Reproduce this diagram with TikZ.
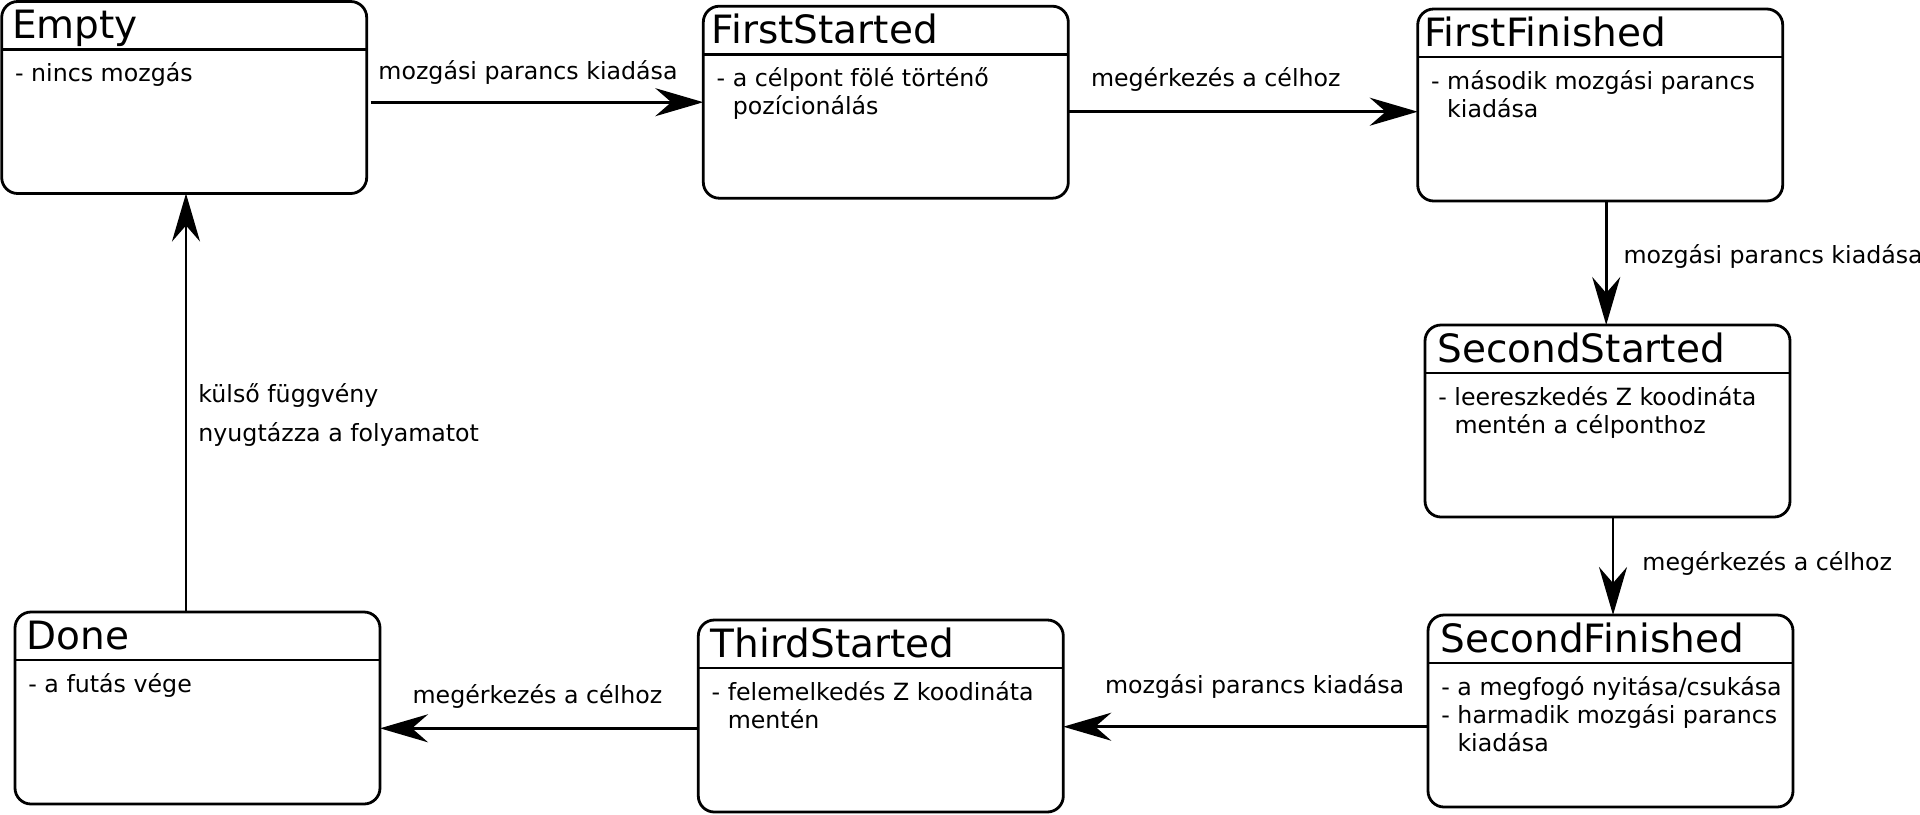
\documentclass[tikz,border=0pt]{standalone}
\usepackage{fontspec}
\setmainfont{DejaVu Sans}
\usetikzlibrary{arrows.meta}

\begin{document}
\begin{tikzpicture}[
    x=0.5pt, y=-0.5pt,
    state/.style={draw, line width=1.4pt, rounded corners=8pt, outer sep=0pt,
        minimum width=182.5pt, minimum height=96pt},
    ttl/.style={anchor=base west, inner sep=0pt,
        font=\fontsize{19.5}{23}\selectfont},
    body/.style={anchor=base west, inner sep=0pt, align=left,
        font=\fontsize{11.85}{14.2}\selectfont},
    lbl/.style={anchor=base, inner sep=0pt,
        font=\fontsize{11.85}{14.2}\selectfont},
    trans/.style={line width=1.4pt,
        -{Stealth[length=24pt, width=14pt, inset=8pt]}},
]
\useasboundingbox (0,0) rectangle (1920,814);

% states: name / centre x / centre y / title offset / title
\foreach \n/\cx/\cy/\tx/\tl in {
    e/184.2/97.5/5/Empty,
    fs/885.8/102.2/4/FirstStarted,
    ff/1600.2/105/3/FirstFinished,
    ss/1607.5/421/6/SecondStarted,
    sf/1610.5/711/6/SecondFinished,
    ts/880.8/716/6/ThirdStarted,
    d/197.5/708/5.5/Done} {
    \node[state] (\n) at (\cx,\cy) {};
    \draw[line width=1.4pt]
        ([yshift=-24pt]\n.north west) -- ([yshift=-24pt]\n.north east);
    \node[ttl] at ([xshift=\tx pt, yshift=-18.5pt]\n.north west) {\tl};
}

% state bodies (base = last line, so shift by 14.2pt per extra line)
\node[body] at ([xshift=6.5pt, yshift=-40pt]e.north west) {- nincs mozgás};
\node[body] at ([xshift=6.5pt, yshift=-54.2pt]fs.north west)
    {- a célpont fölé történő\\\phantom{- }pozícionálás};
\node[body] at ([xshift=6.5pt, yshift=-54.2pt]ff.north west)
    {- második mozgási parancs\\\phantom{- }kiadása};
\node[body] at ([xshift=6.5pt, yshift=-54.2pt]ss.north west)
    {- leereszkedés Z koodináta\\\phantom{- }mentén a célponthoz};
\node[body] at ([xshift=6.5pt, yshift=-68.4pt]sf.north west)
    {- a megfogó nyitása/csukása\\- harmadik mozgási parancs\\\phantom{- }kiadása};
\node[body] at ([xshift=6.5pt, yshift=-54.2pt]ts.north west)
    {- felemelkedés Z koodináta\\\phantom{- }mentén};
\node[body] at ([xshift=6.5pt, yshift=-40pt]d.north west) {- a futás vége};

% transitions
\draw[trans, shorten <=2pt] (e.east |- fs.west) -- (fs.west)
    node[lbl, midway, xshift=-3.5pt, yshift=11.35pt] {mozgási parancs kiadása};
\draw[trans] ([yshift=-4.75pt]fs.east) -- ([yshift=-4.75pt]fs.east -| ff.west)
    node[lbl, midway, xshift=-13.6pt, yshift=12.5pt] {megérkezés a célhoz};
\draw[trans] ([xshift=3pt]ff.south) -- ([xshift=3pt]ff.south |- ss.north)
    node[lbl, anchor=base west, midway, xshift=8pt] {mozgási parancs kiadása};
\draw[trans] ([xshift=2.75pt]ss.south) -- ([xshift=2.75pt]ss.south |- sf.north)
    node[lbl, anchor=base west, midway, xshift=14pt, yshift=-2.35pt] {megérkezés a célhoz};
\draw[trans] ([yshift=-7.85pt]sf.west) -- ([yshift=-7.85pt]sf.west -| ts.east)
    node[lbl, midway, xshift=4.5pt, yshift=16.7pt] {mozgási parancs kiadása};
\draw[trans] ([yshift=-6.15pt]ts.west) -- ([yshift=-6.15pt]ts.west -| d.east)
    node[lbl, midway, xshift=-0.85pt, yshift=12.5pt] {megérkezés a célhoz};
\draw[trans] ([xshift=-5.75pt]d.north) -- ([xshift=-5.75pt]d.north |- e.south)
    node[lbl, anchor=base west, midway, xshift=5.5pt] {külső függvény}
    node[lbl, anchor=base west, midway, xshift=5.5pt, yshift=-19.5pt] {nyugtázza a folyamatot};

\end{tikzpicture}
\end{document}
